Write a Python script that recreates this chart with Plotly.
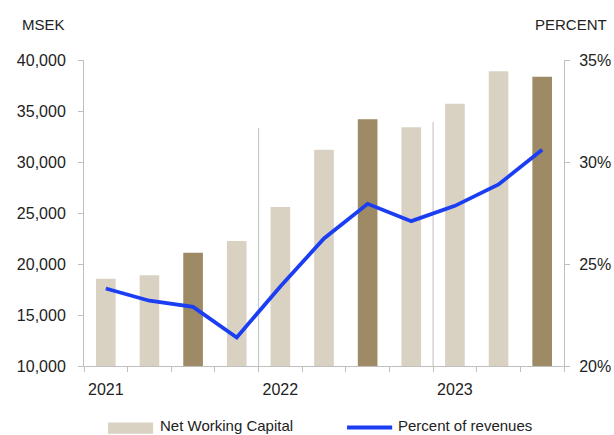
import plotly.graph_objects as go

quarters = ["Q1 2021", "Q2 2021", "Q3 2021", "Q4 2021",
            "Q1 2022", "Q2 2022", "Q3 2022", "Q4 2022",
            "Q1 2023", "Q2 2023", "Q3 2023"]
nwc_msek = [18550, 18900, 21100, 22250, 25600, 31200, 34200, 33400, 35700, 38900, 38350]
pct_of_revenues = [23.8, 23.2, 22.9, 21.4, 23.9, 26.25, 27.95, 27.1, 27.85, 28.9, 30.6]
highlight = [False, False, True, False, False, False, True, False, False, False, True]
year_labels = ["2021", "2022", "2023"]
year_label_pos = [0, 4, 8]
year_separators = [3.5, 7.5]

LIGHT = "#d9d2c3"
DARK = "#9e8a64"
BLUE = "#1c3ef2"
AXIS = "#bfbfbf"
FONT = "Liberation Sans, Arial, sans-serif"

xs = list(range(len(quarters)))
bar_colors = [DARK if h else LIGHT for h in highlight]

fig = go.Figure()
fig.add_trace(go.Bar(x=xs, y=nwc_msek, marker=dict(color=bar_colors, line=dict(width=0)),
                     width=0.45, name="Net Working Capital", hovertext=quarters,
                     showlegend=False))
fig.add_trace(go.Scatter(x=xs, y=pct_of_revenues, mode="lines", yaxis="y2",
                         line=dict(color=BLUE, width=3.8), name="Percent of revenues",
                         hovertext=quarters, showlegend=False))

# year separators
for sx, top in zip(year_separators, [0.778, 0.797]):
    fig.add_shape(type="line", xref="x", yref="paper", x0=sx, x1=sx, y0=0, y1=top,
                  line=dict(color="#c8c8c8", width=1.2), layer="below")

# custom legend
fig.add_shape(type="rect", xref="paper", yref="paper", x0=0.05, x1=0.144,
              y0=-0.2210, y1=-0.1850, fillcolor=LIGHT, line=dict(width=0))
fig.add_shape(type="line", xref="paper", yref="paper", x0=0.548, x1=0.642,
              y0=-0.201, y1=-0.201, line=dict(color=BLUE, width=3.8))
fig.add_annotation(xref="paper", yref="paper", x=0.154, y=-0.193, text="Net Working Capital",
                   showarrow=False, xanchor="left", yanchor="middle",
                   font=dict(size=15, color="#222"))
fig.add_annotation(xref="paper", yref="paper", x=0.649, y=-0.193, text="Percent of revenues",
                   showarrow=False, xanchor="left", yanchor="middle",
                   font=dict(size=15, color="#222"))

# axis titles
fig.add_annotation(xref="paper", yref="paper", x=-0.134, y=1.117, text="MSEK",
                   showarrow=False, xanchor="left", yanchor="middle",
                   font=dict(size=15, color="#222"))
fig.add_annotation(xref="paper", yref="paper", x=1.093, y=1.117, text="PERCENT",
                   showarrow=False, xanchor="right", yanchor="middle",
                   font=dict(size=15, color="#222"))

fig.update_layout(
    width=614, height=435,
    margin=dict(l=84, r=50, t=60, b=69, autoexpand=False),
    paper_bgcolor="white", plot_bgcolor="white",
    font=dict(family=FONT, size=16, color="#222"),
    xaxis=dict(range=[-0.5, 10.5], tickmode="array", tickvals=year_label_pos,
               ticktext=year_labels, ticks="outside", ticklen=9, automargin=False,
               tickcolor="rgba(0,0,0,0)", showgrid=False, zeroline=False,
               showline=True, linecolor=AXIS, linewidth=1,
               minor=dict(tickmode="linear", tick0=-0.5, dtick=1, ticks="outside",
                          ticklen=5, tickcolor=AXIS, showgrid=False)),
    yaxis=dict(range=[10000, 40000], dtick=5000, tickformat=",", showgrid=False,
               zeroline=False, showline=True, linecolor=AXIS, linewidth=1,
               automargin=False,
               ticks="outside", ticklen=5, tickcolor=AXIS, ticklabelstandoff=9),
    yaxis2=dict(range=[20, 35], dtick=5, ticksuffix="%", overlaying="y", side="right",
                showgrid=False, zeroline=False, showline=True, linecolor=AXIS,
                linewidth=1, ticks="outside", ticklen=5, tickcolor=AXIS,
                automargin=False, ticklabelstandoff=6),
)

# remove the default 8px page margin so the figure fills the window exactly
fig.write_html("out.html", config={"displayModeBar": False},
               post_script="document.body.style.margin='0';document.body.style.overflow='hidden';")
